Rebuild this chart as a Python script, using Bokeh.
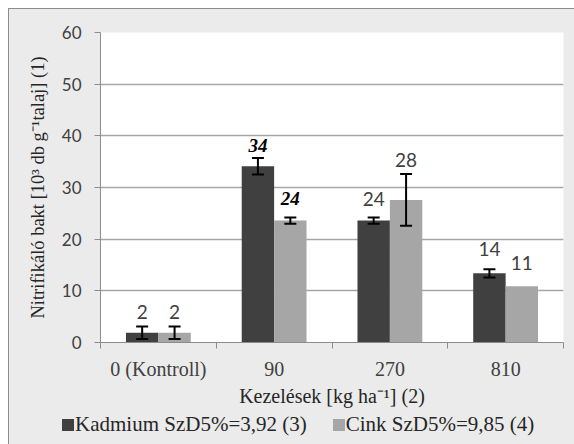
import math
from bokeh.plotting import figure
from bokeh.layouts import column, row
from bokeh.models import (ColumnDataSource, Range1d, FixedTicker, Whisker, Spacer, Div)
from bokeh.transform import dodge
from bokeh.embed import file_html
from bokeh.resources import INLINE

categories = ["0 (Kontroll)", "90", "270", "810"]
kadmium = [1.9, 34.1, 23.6, 13.4]
kadmium_err = [1.2, 1.6, 0.6, 0.8]
cink = [1.9, 23.6, 27.6, 10.9]
cink_err = [1.2, 0.6, 5.0, 0.0]
kadmium_labels = ["2", "34", "24", "14"]
cink_labels = ["2", "24", "28", "11"]
series_names = ["Kadmium SzD5%=3,92 (3)", "Cink SzD5%=9,85 (4)"]
y_ticks = [0, 10, 20, 30, 40, 50, 60]

DARK = "#404040"
LIGHT = "#a6a6a6"
BG = "#ebebeb"
SERIF = "Liberation Serif"
SANS = "Lato"

xc = [i + 0.5 for i in range(len(categories))]


def bounds(vals, errs, sign):
    return [v + sign * e if e > 0 else math.nan for v, e in zip(vals, errs)]


src_k = ColumnDataSource(dict(
    x=xc, top=kadmium,
    upper=bounds(kadmium, kadmium_err, 1),
    lower=bounds(kadmium, kadmium_err, -1),
    label=kadmium_labels,
    font=[SANS, SERIF, SANS, SANS],
    style=["normal", "bold italic", "normal", "normal"],
    color=[DARK, "#000000", DARK, DARK],
    off=[-21, -21, -22, -24],
))
src_c = ColumnDataSource(dict(
    x=xc, top=cink,
    upper=bounds(cink, cink_err, 1),
    lower=bounds(cink, cink_err, -1),
    label=cink_labels,
    font=[SANS, SERIF, SANS, SANS],
    style=["normal", "bold italic", "normal", "normal"],
    color=[DARK, "#000000", DARK, DARK],
    off=[-21, -22, -40, -23],
))

LEG_H = 36
p = figure(width=566, height=436 - LEG_H, output_backend="svg", toolbar_location=None,
           x_range=Range1d(0, len(categories)), y_range=Range1d(0, 60),
           min_border_left=91, min_border_right=12, min_border_top=23,
           min_border_bottom=103 - LEG_H)
p.background_fill_color = "white"
p.border_fill_color = BG
p.outline_line_color = None

bw = 0.28
p.vbar(x=dodge("x", -bw / 2), top="top", width=bw, source=src_k,
       fill_color=DARK, line_color=None)
p.vbar(x=dodge("x", bw / 2), top="top", width=bw, source=src_c,
       fill_color=LIGHT, line_color=None)

for src, d in ((src_k, -bw / 2), (src_c, bw / 2)):
    w = Whisker(base=dodge("x", d), upper="upper", lower="lower", source=src,
                line_color="black", line_width=2, level="overlay")
    for h in (w.upper_head, w.lower_head):
        h.size = 12
        h.line_width = 2
        h.line_color = "black"
    p.add_layout(w)

for src, d in ((src_k, -bw / 2), (src_c, bw / 2)):
    p.text(x=dodge("x", d), y="top", text="label", source=src,
           text_font="font", text_font_style="style", text_color="color",
           text_font_size="19px", text_align="center", text_baseline="middle",
           y_offset="off")

# axes
p.xgrid.visible = False
p.ygrid.grid_line_color = "#a6a6a6"
p.ygrid.grid_line_width = 1.5
p.ygrid.ticker = FixedTicker(ticks=y_ticks)

p.yaxis.ticker = FixedTicker(ticks=y_ticks)
p.yaxis.axis_line_color = "#8c8c8c"
p.yaxis.major_tick_line_color = "#8c8c8c"
p.yaxis.major_tick_out = 6
p.yaxis.major_tick_in = 0
p.yaxis.minor_tick_line_color = None
p.yaxis.major_label_text_font = SANS
p.yaxis.major_label_text_font_size = "17px"
p.yaxis.major_label_text_color = DARK
p.yaxis.major_label_standoff = 13
p.yaxis.axis_label = "Nitrifikáló bakt [10³ db g⁻¹talaj] (1)"
p.yaxis.axis_label_text_font = SERIF
p.yaxis.axis_label_text_font_style = "normal"
p.yaxis.axis_label_text_font_size = "18.5px"
p.yaxis.axis_label_text_color = "#262626"
p.yaxis.axis_label_standoff = 11

p.xaxis.ticker = FixedTicker(ticks=xc, minor_ticks=list(range(len(categories) + 1)))
p.xaxis.major_label_overrides = {x: c for x, c in zip(xc, categories)}
p.xaxis.axis_line_color = "#8c8c8c"
p.xaxis.major_tick_line_color = None
p.xaxis.minor_tick_line_color = "#8c8c8c"
p.xaxis.minor_tick_out = 6
p.xaxis.minor_tick_in = 0
p.xaxis.major_tick_out = 6
p.xaxis.major_label_text_font = SERIF
p.xaxis.major_label_text_font_size = "20px"
p.xaxis.major_label_text_color = DARK
p.xaxis.major_label_standoff = 9
p.xaxis.axis_label = "Kezelések [kg ha⁻¹] (2)"
p.xaxis.axis_label_text_font = SERIF
p.xaxis.axis_label_text_font_style = "normal"
p.xaxis.axis_label_text_font_size = "20px"
p.xaxis.axis_label_text_color = "#262626"
p.xaxis.axis_label_standoff = 2

# legend strip below the chart (HTML text, continues the grey chart area)
sq = ('<span style="display:inline-block;width:12px;height:12px;'
      'background:{c};margin-right:1px;margin-left:{m}px"></span>')
legend_html = (
    f'<div style="font-family:\'{SERIF}\';font-size:21px;color:#262626;'
    f'white-space:nowrap;line-height:24px;padding-top:3px;padding-left:53px">'
    + sq.format(c=DARK, m=0) + series_names[0]
    + sq.format(c=LIGHT, m=26) + series_names[1]
    + '</div>'
)
legend_div = Div(text=legend_html, width=566, height=LEG_H,
                 styles={"background-color": BG, "margin": "0"})

inner = column(p, legend_div, spacing=0,
               styles={"background-color": BG,
                       "border-left": "1px solid #8c8c8c",
                       "border-top": "1px solid #8c8c8c"})
layout = column(Spacer(height=8), row(Spacer(width=8), inner))
open("out.html", "w").write(file_html(layout, INLINE))
